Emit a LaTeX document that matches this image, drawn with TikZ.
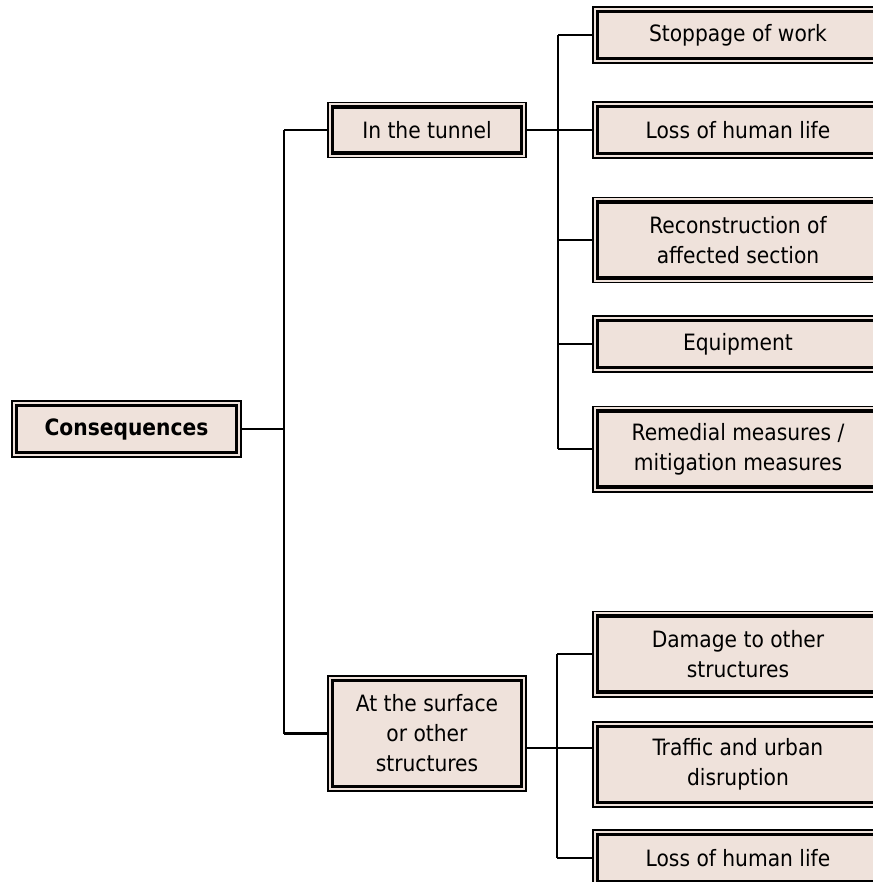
\documentclass[tikz,border=0pt]{standalone}
\usepackage{fontspec}
\setmainfont{DejaVu Sans Condensed}
\usetikzlibrary{positioning}
\definecolor{boxcol}{RGB}{239,226,219}
\tikzset{
  % double framed box: thin outer frame, thick inner frame
  dbox/.style={rectangle, draw=black, line width=1.4pt, fill=boxcol, align=center, inner sep=0pt,
    font=\fontsize{16}{21.3}\selectfont,
    path picture={\draw[line width=2.2pt]
      ([shift={(3.2pt,3.2pt)}]path picture bounding box.south west) rectangle
      ([shift={(-3.2pt,-3.2pt)}]path picture bounding box.north east);}},
  % root box
  rbox/.style={dbox, minimum width=5.725cm, minimum height=1.4cm, font=\fontsize{16}{21.3}\selectfont\bfseries},
  % middle box
  mbox/.style={dbox, minimum width=4.95cm, minimum height=#1},
  mbox/.default={1.375cm},
  % item box in the right column
  ibox/.style={dbox, minimum width=7.25cm, minimum height=#1},
  ibox/.default={1.4cm},
  % connector
  link/.style={line width=1.5pt},
}
\begin{document}
\begin{tikzpicture}[x=0.025cm, y=-0.025cm]
  \clip (0,0) rectangle (873,882);
  \node[rbox] (cons) at (126.5,429) {Consequences};
  \node[mbox] (tunnel) at (427,130) {In the tunnel};
  \node[mbox=2.875cm] (surface) at (427,733.5) {At the surface\\or other\\structures};
  % tunnel items
  \node[ibox] (stop) at (738,35) {Stoppage of work};
  \node[ibox] (life1) at (738,130) {Loss of human life};
  \node[ibox=2.125cm] (recon) at (738,240) {Reconstruction of\\affected section};
  \node[ibox] (equip) at (738,344) {Equipment};
  \node[ibox=2.125cm] (remed) at (738,449) {Remedial measures /\\mitigation measures};
  % surface items
  \node[ibox=2.125cm] (damage) at (738,654) {Damage to other\\structures};
  \node[ibox=2.125cm] (traffic) at (738,764.5) {Traffic and urban\\disruption};
  \node[ibox] (life2) at (738,858) {Loss of human life};
  % trunk
  \coordinate (tt) at (284,130);
  \coordinate (tb) at (284,733.5);
  \draw[link] (tt) -- (tb);
  \draw[link] (cons.east) -- (cons.east -| tt);
  \draw[link] (tt) -- (tunnel.west |- tt);
  \draw[link] (tb) -- (surface.west |- tb);
  % upper bus
  \coordinate (ut) at (558,35);
  \coordinate (ub) at (558,449);
  \draw[link] (ut) -- (ub);
  \draw[link] (tunnel.east) -- (life1.west);
  \foreach \n in {stop,recon,equip,remed}
    \draw[link] (ut |- \n.west) -- (\n.west);
  % lower bus
  \coordinate (lt) at (557,654);
  \coordinate (lb) at (557,858);
  \coordinate (sj) at (557,748);
  \draw[link] (lt) -- (lb);
  \draw[link] (surface.east |- sj) -- (traffic.west |- sj);
  \foreach \n in {damage,life2}
    \draw[link] (lt |- \n.west) -- (\n.west);
\end{tikzpicture}
\end{document}
